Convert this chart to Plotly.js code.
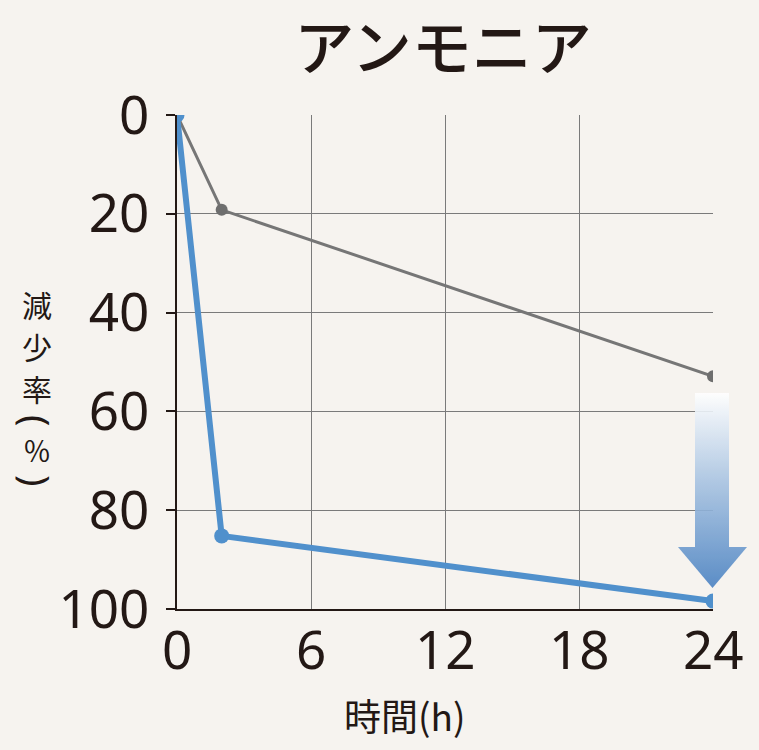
<!DOCTYPE html>
<html><head><meta charset="utf-8">
<script src="https://cdn.plot.ly/plotly-3.0.1.min.js"></script>
<style>html,body{margin:0;padding:0;background:#f6f3ef;}</style>
</head><body>
<div id="chart" style="width:759px;height:750px;"></div>
<script>
const hours = [0, 2, 24];
const graySeries = [0, 19.2, 52.9];
const blueSeries = [0, 85.2, 98.4];
const xTicks = [0, 6, 12, 18, 24];
const yTicks = [0, 20, 40, 60, 80, 100];
const chartTitle = 'アンモニア';
const xTitle = '時間(h)';
const yTitleChars = ['減', '少', '率', '(', '％', ')'];

const CJK = '"Noto Sans CJK JP", "Noto Sans", sans-serif';
const NUM = '"Noto Sans", "DejaVu Sans", sans-serif';
const INK = '#231815';
const bg = '#f6f3ef';

const svg = '<svg xmlns="http://www.w3.org/2000/svg" viewBox="0 0 69 195" preserveAspectRatio="none">' +
  '<defs><linearGradient id="g" gradientUnits="userSpaceOnUse" x1="0" y1="0" x2="0" y2="195">' +
  '<stop offset="0" stop-color="#ffffff"/><stop offset="0.45" stop-color="#a9c4e2"/><stop offset="1" stop-color="#4a82c2"/></linearGradient></defs>' +
  '<rect x="17" y="0" width="34" height="155" fill="url(#g)"/>' +
  '<polygon points="0,154 69,154 34.5,195" fill="url(#g)"/></svg>';
const arrowSrc = 'data:image/svg+xml;charset=utf-8,' + encodeURIComponent(svg);

const traces = [
  {x: hours, y: graySeries, type: 'scatter', mode: 'lines+markers',
   line: {color: '#767676', width: 3}, marker: {color: '#6e6e6e', size: 12}, hoverinfo: 'skip'},
  {x: hours, y: blueSeries, type: 'scatter', mode: 'lines+markers',
   line: {color: '#5090cc', width: 6}, marker: {color: '#5090cc', size: 15}, hoverinfo: 'skip'}
];

// y-axis title: stacked upright characters, parentheses turned sideways (vertical writing)
const yPix = [304, 346, 388, 420, 450, 480];
const yTitleAnn = yTitleChars.map((c, i) => {
  const paren = (c === '(' || c === ')');
  return {
    text: c, xref: 'paper', yref: 'paper',
    x: (37 - 177) / 536, y: (609 - yPix[i]) / 494,
    xanchor: 'center', yanchor: 'middle', showarrow: false,
    textangle: paren ? 90 : 0,
    font: {family: paren ? NUM : CJK, size: paren ? 38 : (c === '％' ? 28 : 30), color: INK}
  };
});

// x tick labels placed on the x scale
const xTickAnn = xTicks.map(v => ({
  text: String(v), xref: 'x', yref: 'paper', x: v, y: (609 - 648) / 494,
  xanchor: 'center', yanchor: 'middle', showarrow: false,
  font: {family: NUM, size: 53, color: INK}
}));

const layout = {
  width: 759, height: 750,
  paper_bgcolor: bg, plot_bgcolor: bg,
  margin: {l: 177, r: 46, t: 115, b: 141},
  showlegend: false,
  font: {family: CJK, color: INK},
  title: {text: chartTitle, font: {family: CJK, size: 60, color: INK, weight: 500},
          x: 443 / 759, xanchor: 'center', y: 1 - 49 / 750, yanchor: 'middle'},
  xaxis: {range: [0, 24], tickvals: xTicks, showticklabels: false,
          showgrid: true, gridcolor: '#7a7a7a', gridwidth: 1,
          showline: true, linecolor: INK, linewidth: 2,
          ticks: '', zeroline: false},
  yaxis: {range: [100, 0], tickvals: yTicks, ticktext: yTicks.map(String),
          showgrid: true, gridcolor: '#7a7a7a', gridwidth: 1,
          showline: true, linecolor: INK, linewidth: 2,
          ticks: 'outside', ticklen: 9, tickcolor: INK, tickwidth: 2,
          zeroline: false, ticklabelstandoff: 6,
          tickfont: {family: NUM, size: 53, color: INK}},
  annotations: yTitleAnn.concat(xTickAnn, [{
    text: xTitle, xref: 'paper', yref: 'paper',
    x: (404 - 177) / 536, y: (609 - 715) / 494, xanchor: 'center', yanchor: 'middle',
    showarrow: false, font: {family: CJK, size: 37, color: INK}
  }]),
  images: [{
    source: arrowSrc, xref: 'paper', yref: 'paper',
    x: (678 - 177) / 536, y: (609 - 393) / 494, sizex: 69 / 536, sizey: 195 / 494,
    xanchor: 'left', yanchor: 'top', sizing: 'stretch', layer: 'above', opacity: 0.9
  }]
};

Plotly.newPlot('chart', traces, layout, {displayModeBar: false, staticPlot: true});
</script>
</body></html>
